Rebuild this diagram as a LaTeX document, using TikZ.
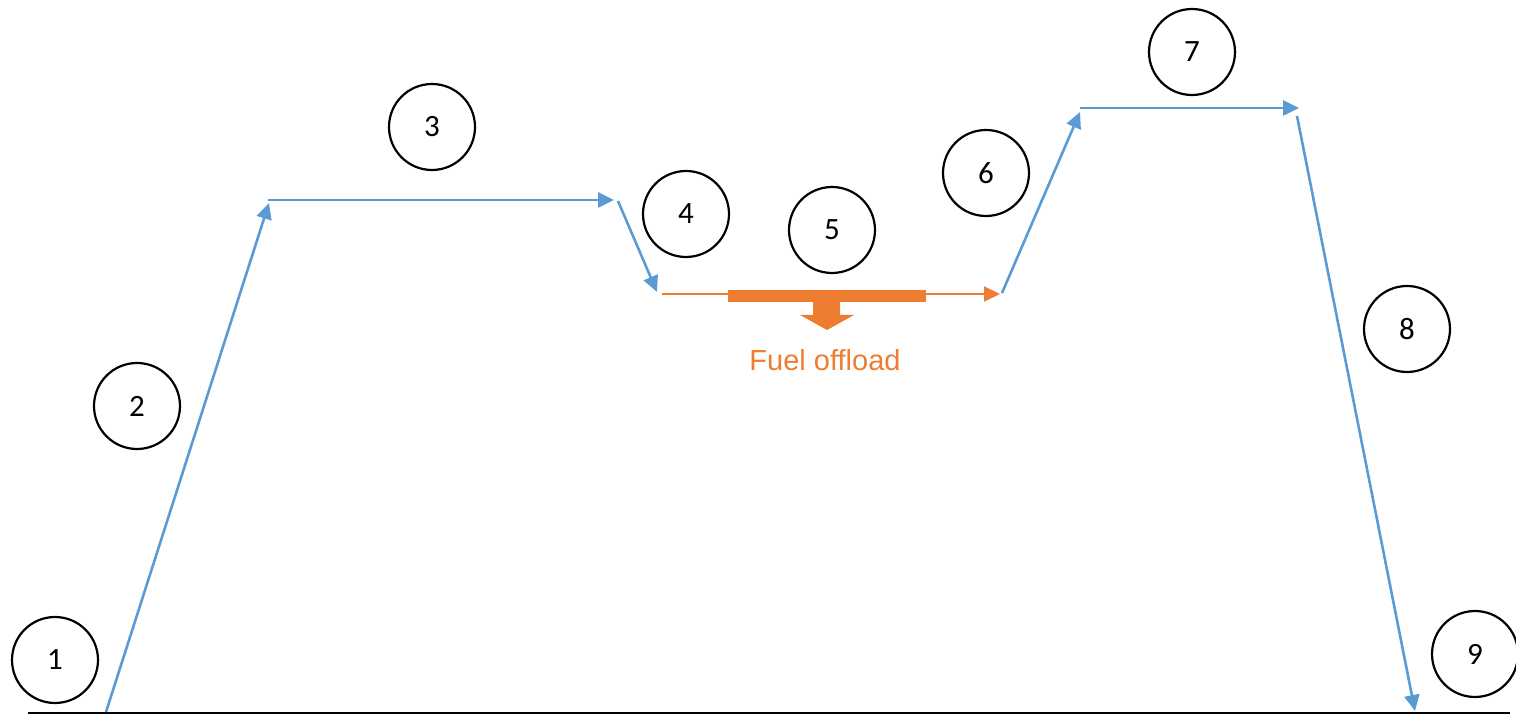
\documentclass[tikz,border=0pt]{standalone}
\usepackage{fontspec}
\setmainfont{Carlito}
\newfontfamily\labelfont{Liberation Sans}
\usetikzlibrary{arrows.meta}
\definecolor{leg}{HTML}{5B9BD5}
\definecolor{fuel}{HTML}{ED7D31}
\tikzset{
  phase/.style={circle,draw=black,line width=1.1pt,minimum size=43pt,inner sep=0pt,font=\fontsize{15.5}{17}\selectfont},
  legline/.style={draw=leg,line width=1.3pt,-{Triangle[length=8pt,width=7.5pt]}},
  fuelline/.style={draw=fuel,line width=1pt,-{Triangle[length=8pt,width=7.5pt]}}
}
\begin{document}
\begin{tikzpicture}[x=0.5pt,y=-0.5pt]
\useasboundingbox (0,0) rectangle (1516,715);
% ground
\coordinate (g0) at (28,713);
\coordinate (g1) at (1510,713);
\draw[line width=0.8pt] (g0) -- (g1);
% phase numbers
\node[phase] (c1) at (55,660) {1};
\node[phase] (c2) at (137,406) {2};
\node[phase] (c3) at (432,127) {3};
\node[phase] (c4) at (686,214) {4};
\node[phase] (c5) at (832,230) {5};
\node[phase] (c6) at (986,173) {6};
\node[phase] (c7) at (1192,52) {7};
\node[phase] (c8) at (1407,329) {8};
\node[phase] (c9) at (1475,654) {9};
% flight profile points
\coordinate (p1) at (106,712);
\coordinate (p2) at (269,203);
\coordinate (p3a) at (268,200);
\coordinate (p3b) at (614,200);
\coordinate (p4a) at (618,201);
\coordinate (p4b) at (657,292);
\coordinate (p5a) at (662,294);
\coordinate (p5b) at (1000,294);
\coordinate (p6a) at (1002,293);
\coordinate (p6b) at (1080,112);
\coordinate (p7a) at (1080,108);
\coordinate (p7b) at (1299,108);
\coordinate (p8a) at (1297,116);
\coordinate (p8b) at (1415,711);
\draw[legline] (p1) -- (p2);
\draw[legline] (p3a) -- (p3b);
\draw[legline] (p4a) -- (p4b);
\draw[fuelline] (p5a) -- (p5b);
\draw[legline] (p6a) -- (p6b);
\draw[legline] (p7a) -- (p7b);
\draw[legline] (p8a) -- (p8b);
% refuelling bar and offload arrow
\fill[fuel] (728,290) rectangle (926,302);
\fill[fuel] (813,302) -- (840,302) -- (840,315) -- (854,315) -- (827,330) -- (800,315) -- (813,315) -- cycle;
\node[text=fuel,font=\labelfont\fontsize{14.5}{16}\selectfont] (fuel) at (825,360) {Fuel offload};
\end{tikzpicture}
\end{document}
